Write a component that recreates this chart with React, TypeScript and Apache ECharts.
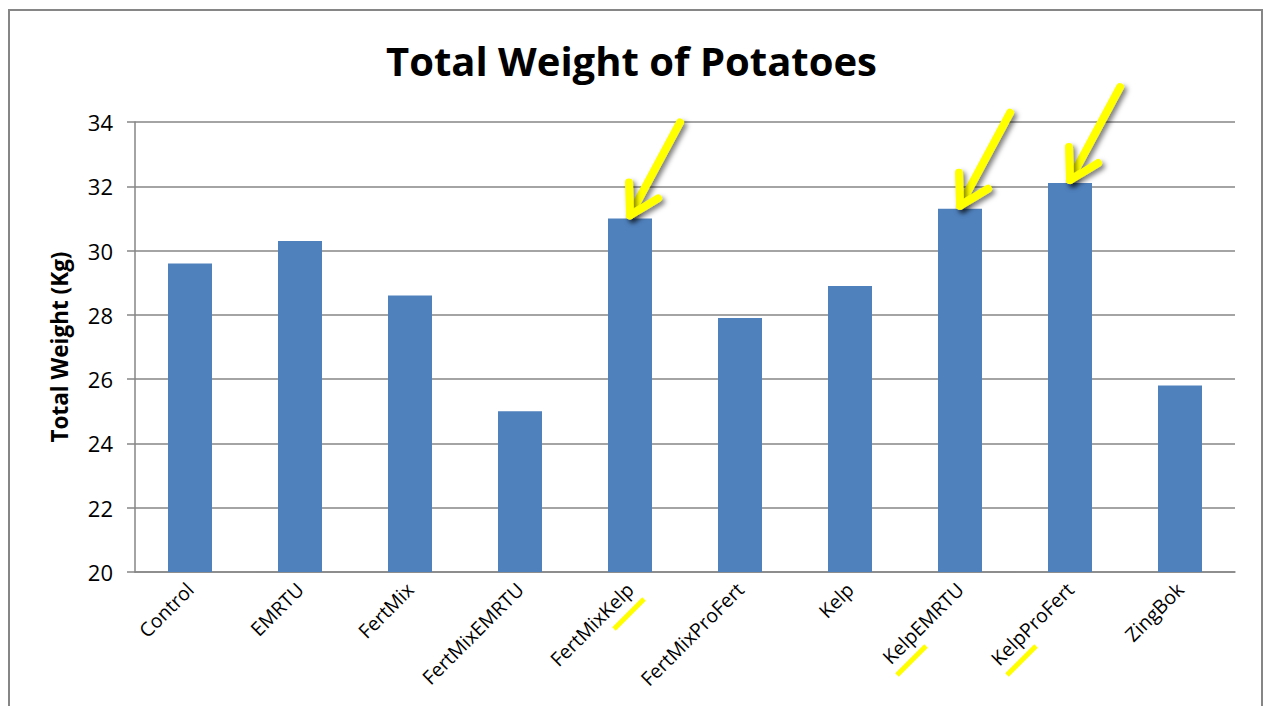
import React, { useEffect, useRef } from "react";
import * as echarts from "echarts";

const categories = [
  "Control",
  "EMRTU",
  "FertMix",
  "FertMixEMRTU",
  "FertMixKelp",
  "FertMixProFert",
  "Kelp",
  "KelpEMRTU",
  "KelpProFert",
  "ZingBok",
];
const weights = [29.6, 30.3, 28.6, 25.0, 31.0, 27.9, 28.9, 31.3, 32.1, 25.8];
const arrowTargets = ["FertMixKelp", "KelpEMRTU", "KelpProFert"];
// underline segment offsets relative to (category centre, axis y)
const underlines: { cat: string; seg: number[] }[] = [
  { cat: "FertMixKelp", seg: [-16, 57, 14, 27] },
  { cat: "KelpEMRTU", seg: [-63, 103, -34, 74] },
  { cat: "KelpProFert", seg: [-63, 103, -34, 74] },
];

const FONT = "'Open Sans', sans-serif";
const GRAY = "#868686";
const YELLOW = "#FFFF00";

export default function App() {
  const ref = useRef<HTMLDivElement>(null);
  useEffect(() => {
    if (!ref.current) return;
    const chart = echarts.init(ref.current, null, { renderer: "svg" });
    const option: any = {
      animation: false,
      backgroundColor: "#fff",
      title: {
        text: "Total Weight of Potatoes",
        left: "center",
        top: 35,
        textStyle: {
          fontFamily: FONT,
          fontWeight: "bold",
          fontSize: 40,
          color: "#000",
        },
      },
      grid: { left: 135, right: 28, top: 122, bottom: 134, containLabel: false },
      xAxis: {
        type: "category",
        data: categories,
        axisLine: { show: true, lineStyle: { color: GRAY, width: 1.5 } },
        axisTick: { show: false },
        axisLabel: {
          rotate: 45,
          margin: 14,
          interval: 0,
          fontFamily: FONT,
          fontSize: 19.5,
          color: "#000",
        },
      },
      yAxis: {
        type: "value",
        min: 20,
        max: 34,
        interval: 2,
        name: "Total Weight (Kg)",
        nameLocation: "middle",
        nameGap: 64,
        nameTextStyle: {
          fontFamily: FONT,
          fontWeight: "bold",
          fontSize: 22.5,
          color: "#000",
        },
        axisLine: { show: true, lineStyle: { color: GRAY, width: 1.5 } },
        axisTick: { show: true, length: 8, lineStyle: { color: GRAY, width: 1.5 } },
        splitLine: { show: true, lineStyle: { color: GRAY, width: 1.5 } },
        axisLabel: {
          margin: 22,
          fontFamily: FONT,
          fontSize: 22,
          color: "#000",
        },
      },
      series: [
        {
          type: "bar",
          data: weights,
          barWidth: "40%",
          itemStyle: { color: "#4F81BD" },
        },
      ],
    };
    chart.setOption(option);

    const graphics: any[] = [
      {
        type: "rect",
        shape: { x: 9, y: 10, width: 1253, height: 800 },
        style: { fill: "none", stroke: GRAY, lineWidth: 2 },
        z: 0,
        silent: true,
      },
    ];
    const shadow = {
      shadowBlur: 5,
      shadowColor: "rgba(0,0,0,0.5)",
      shadowOffsetX: 3,
      shadowOffsetY: 3,
    };
    arrowTargets.forEach((cat) => {
      const idx = categories.indexOf(cat);
      const p = chart.convertToPixel({ seriesIndex: 0 }, [idx, weights[idx]]) as number[];
      const tx = p[0];
      const ty = p[1] - 3;
      graphics.push({
        type: "line",
        shape: { x1: tx, y1: ty, x2: tx + 50, y2: ty - 93 },
        style: { stroke: YELLOW, lineWidth: 8, lineCap: "round", ...shadow },
        z: 100,
      });
      graphics.push({
        type: "polyline",
        shape: { points: [[tx - 1, ty - 33], [tx, ty], [tx + 28, ty - 17]] },
        style: { stroke: YELLOW, lineWidth: 8, lineCap: "round", lineJoin: "round", fill: "none", ...shadow },
        z: 100,
      });
    });
    const axisY = chart.convertToPixel({ yAxisIndex: 0 }, 20) as number;
    underlines.forEach((u) => {
      const idx = categories.indexOf(u.cat);
      const cx = chart.convertToPixel({ xAxisIndex: 0 }, idx) as number;
      graphics.push({
        type: "line",
        shape: {
          x1: cx + u.seg[0],
          y1: axisY + u.seg[1],
          x2: cx + u.seg[2],
          y2: axisY + u.seg[3],
        },
        style: { stroke: YELLOW, lineWidth: 5 },
        z: 100,
      });
    });
    chart.setOption({ graphic: graphics });

    return () => chart.dispose();
  }, []);
  return (
    <div
      ref={ref}
      style={{ position: "fixed", left: 0, top: 0, width: 1263, height: 706 }}
    />
  );
}
